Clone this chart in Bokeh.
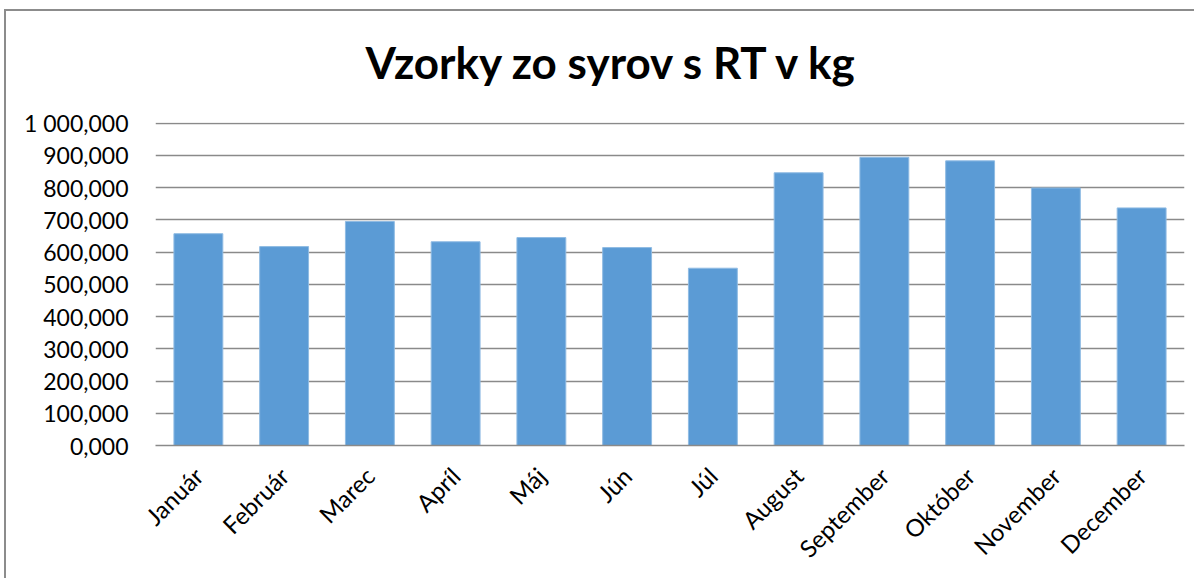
import math
from bokeh.plotting import figure
from bokeh.models import FixedTicker, FactorRange, Range1d, Title
from bokeh.embed import file_html
from bokeh.resources import INLINE

# ---- data ----
months = ["Január", "Február", "Marec", "Apríl", "Máj", "Jún", "Júl",
          "August", "September", "Október", "November", "December"]
values = [657000, 617000, 695000, 632000, 645000, 614000, 550000,
          846000, 894000, 883000, 799000, 737000]
y_ticks = [0, 100000, 200000, 300000, 400000, 500000, 600000,
           700000, 800000, 900000, 1000000]
y_tick_labels = ["0,000", "100,000", "200,000", "300,000", "400,000", "500,000",
                 "600,000", "700,000", "800,000", "900,000", "1 000,000"]
title_text = "Vzorky zo syrov s RT v kg"

FONT = "Lato"
GRID = "#8a8a8a"

p = figure(
    width=1190, height=569,
    x_range=FactorRange(factors=months, range_padding=0),
    y_range=Range1d(0, 1002000),
    output_backend="svg", toolbar_location=None, tools="",
    min_border_left=149, min_border_right=12,
    min_border_top=111, min_border_bottom=135,
    outline_line_color=None,
    background_fill_color="white", border_fill_color="white",
)
p.styles = {"border-left": "2px solid #8c8c8c", "border-top": "2px solid #8c8c8c",
            "margin-left": "4px", "margin-top": "9px"}

p.vbar(x=months, top=values, width=0.57, fill_color="#5B9BD5",
       line_color="#8fbbe3", line_width=1)

# title
p.title.text = title_text
p.title.align = "left"
p.title.offset = 210
p.title.standoff = 0
p.title.text_font = FONT
p.title.text_font_style = "bold"
p.title.text_font_size = "44px"
p.title.text_color = "black"
# empty spacer between title and plot area
p.add_layout(Title(text=" ", text_font_size="2px", standoff=31), "above")

# y axis
p.yaxis.ticker = FixedTicker(ticks=y_ticks)
p.yaxis.major_label_overrides = {t: l for t, l in zip(y_ticks, y_tick_labels)}
p.yaxis.axis_line_color = None
p.yaxis.major_tick_line_color = None
p.yaxis.minor_tick_line_color = None
p.yaxis.major_label_standoff = 21
p.yaxis.major_label_text_font = FONT
p.yaxis.major_label_text_font_size = "23px"
p.yaxis.major_label_text_color = "black"

# x axis
p.xaxis.axis_line_color = GRID
p.xaxis.axis_line_width = 1.3
p.xaxis.major_tick_line_color = None
p.xaxis.minor_tick_line_color = None
p.xaxis.major_label_orientation = math.pi / 4
p.xaxis.major_label_standoff = 20
p.xaxis.major_label_text_font = FONT
p.xaxis.major_label_text_font_size = "24px"
p.xaxis.major_label_text_color = "black"

p.xgrid.visible = False
p.ygrid.grid_line_color = GRID
p.ygrid.grid_line_width = 1.3

open("out.html", "w").write(file_html(p, INLINE))
